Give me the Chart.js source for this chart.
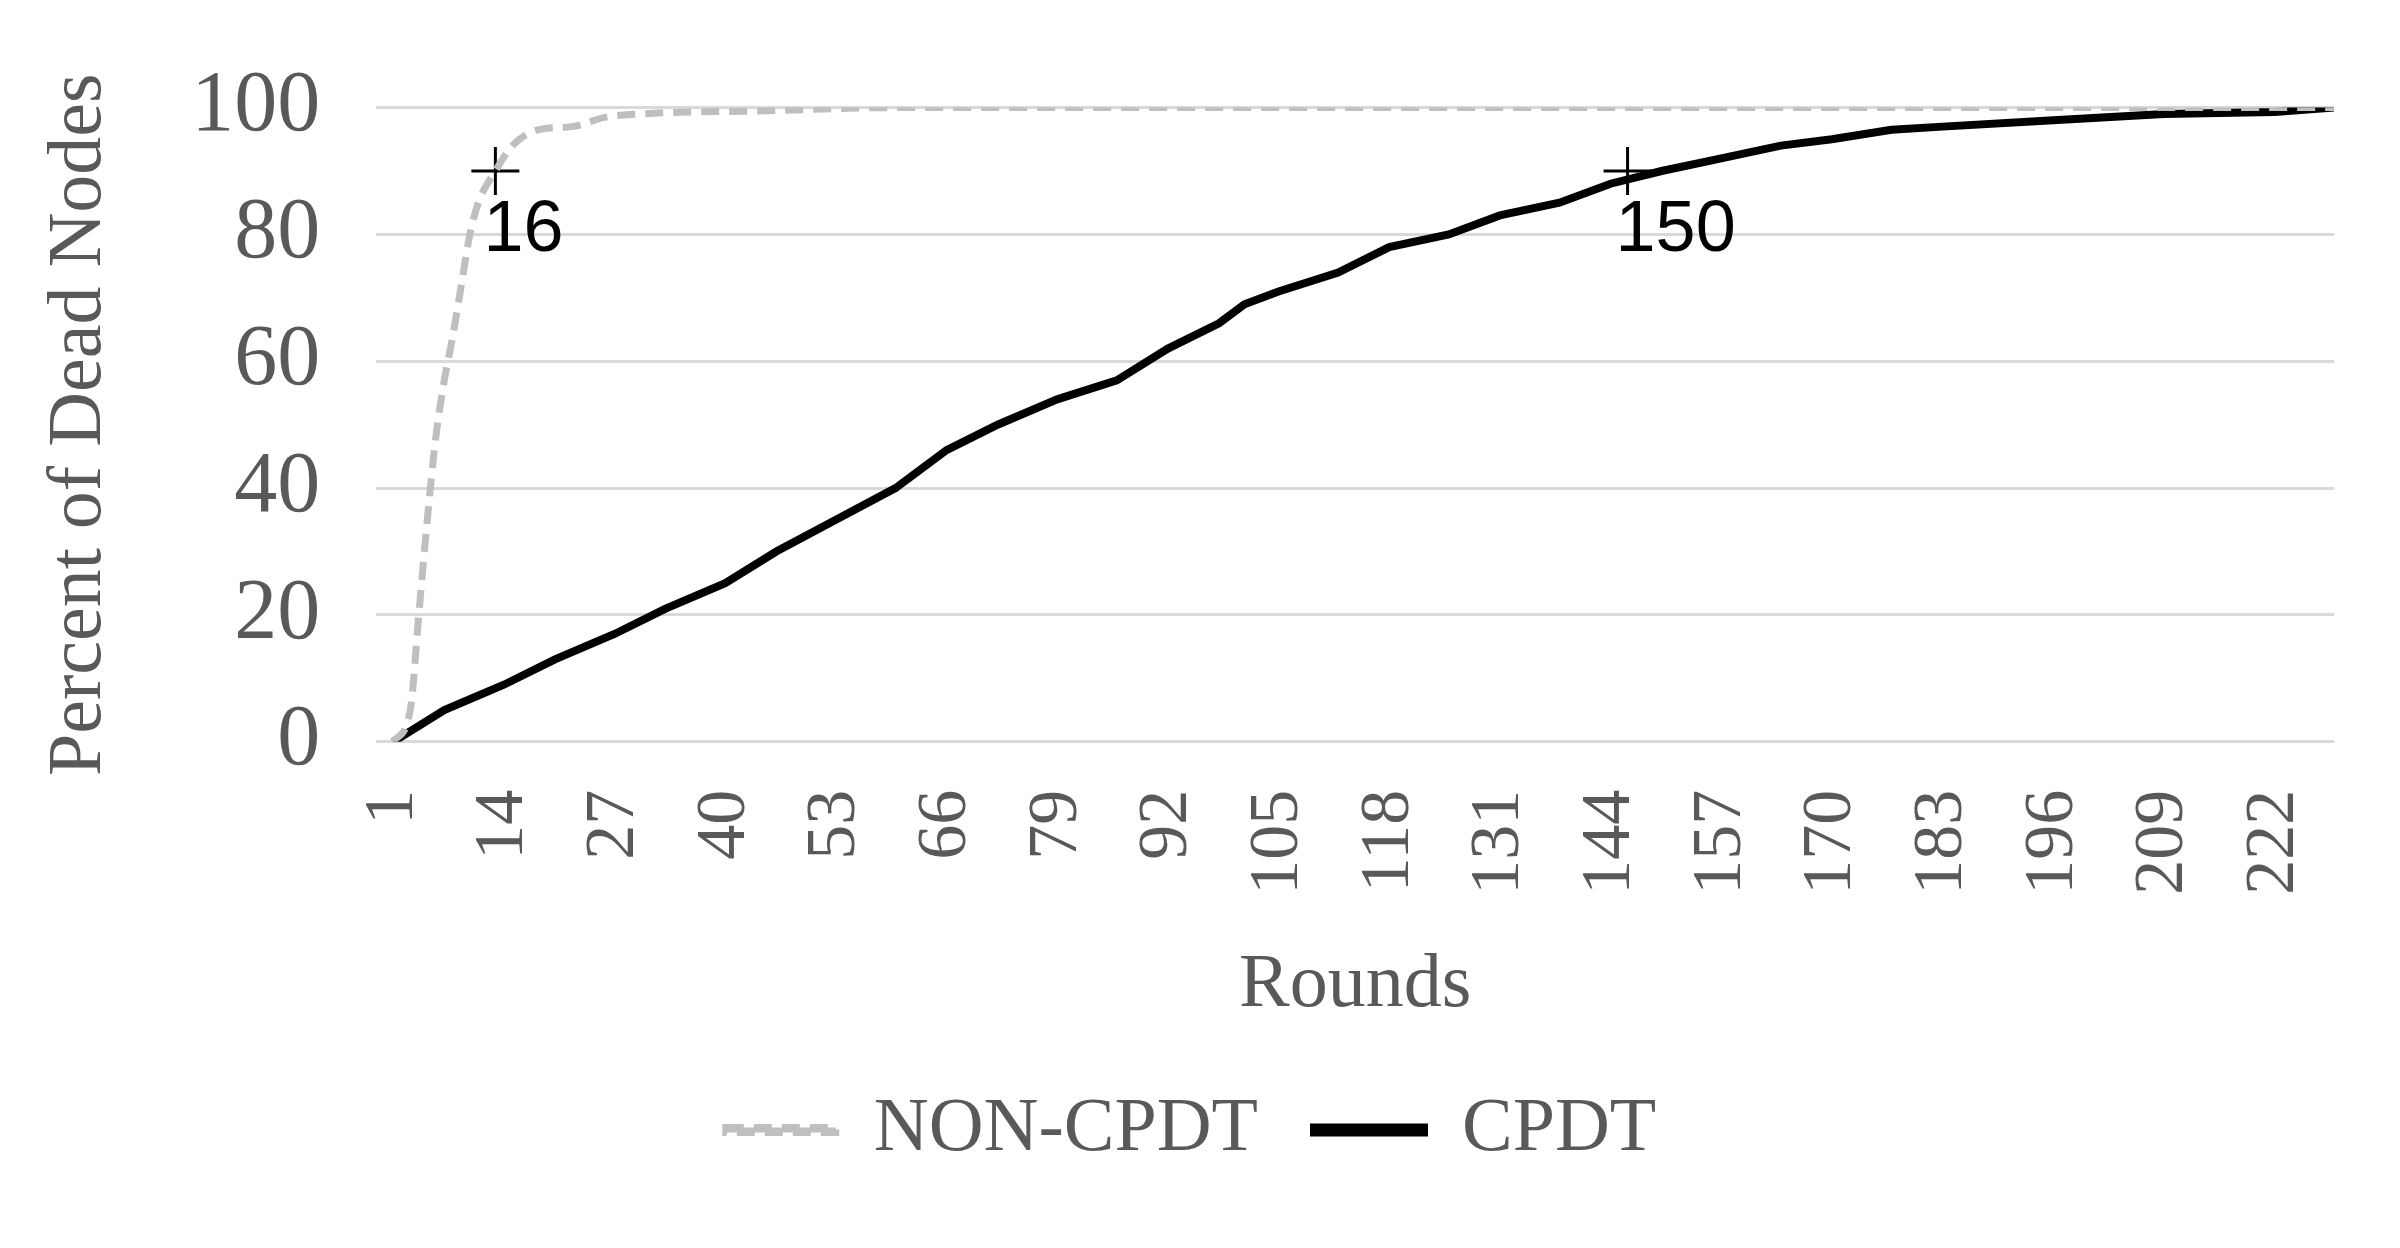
<!DOCTYPE html>
<html>
<head>
<meta charset="utf-8">
<script src="https://cdn.jsdelivr.net/npm/chart.js@4.4.1/dist/chart.umd.min.js"></script>
<style>
  html, body { margin: 0; background: #fff; }
  #wrap { width: 2400px; height: 1248px; }
</style>
</head>
<body>
<div id="wrap"><canvas id="chart"></canvas></div>
<script>
// rounds shown on the x axis
const tickRounds = [1, 14, 27, 40, 53, 66, 79, 92, 105, 118, 131, 144, 157, 170, 183, 196, 209, 222];

// NON-CPDT (percent of dead nodes by round)
const nonRounds = [1, 3, 4, 5, 6, 7, 8, 9, 10, 11, 13, 15, 18, 22, 26, 30, 45, 60, 229];
const nonValues = [0, 5, 20, 35, 48, 57, 64, 72, 80, 85, 90, 94, 96.5, 97, 98.5, 99, 99.5, 100, 100];

// CPDT
const cpdtRounds = [1, 7, 14, 20, 27, 33, 40, 46, 53, 60, 66, 72, 79, 86, 92, 98, 101, 105, 112, 118, 125, 131, 138, 144, 150, 157, 164, 170, 177, 183, 196, 209, 222, 229];
const cpdtValues = [0, 5, 9, 13, 17, 21, 25, 30, 35, 40, 46, 50, 54, 57, 62, 66, 69, 71, 74, 78, 80, 83, 85, 88, 90, 92, 94, 95, 96.5, 97, 98, 99, 99.3, 100];

// annotated points
const markRounds = [13, 146];
const markValues = [90, 90];
const markLabels = ['16', '150'];

const toXY = (xs, ys) => xs.map((x, i) => ({ x: x, y: ys[i] }));

const grey = '#595959';
const serif = '"Liberation Serif", "DejaVu Serif", serif';

const markLabelPlugin = {
  id: 'markLabels',
  afterDatasetsDraw(chart) {
    const meta = chart.getDatasetMeta(2);
    const ctx = chart.ctx;
    ctx.save();
    ctx.font = '72px "Liberation Sans", Arial, sans-serif';
    ctx.fillStyle = '#000';
    ctx.textBaseline = 'top';
    meta.data.forEach((pt, i) => {
      ctx.fillText(markLabels[i], pt.x - 12, pt.y + 24);
    });
    ctx.restore();
  }
};

new Chart(document.getElementById('chart'), {
  type: 'line',
  data: {
    datasets: [
      {
        label: 'NON-CPDT',
        data: toXY(nonRounds, nonValues),
        borderColor: '#bfbfbf',
        backgroundColor: '#bfbfbf',
        borderWidth: 7,
        borderDash: [18, 10],
        pointRadius: 0,
        tension: 0.4,
        cubicInterpolationMode: 'monotone'
      },
      {
        label: 'CPDT',
        data: toXY(cpdtRounds, cpdtValues),
        borderColor: '#000',
        backgroundColor: '#000',
        borderWidth: 8,
        pointRadius: 0,
        tension: 0
      },
      {
        label: 'marks',
        data: toXY(markRounds, markValues),
        showLine: false,
        pointStyle: 'cross',
        pointRadius: 24,
        borderColor: '#000',
        borderWidth: 3
      }
    ]
  },
  options: {
    responsive: true,
    maintainAspectRatio: false,
    animation: false,
    devicePixelRatio: 1,
    layout: { padding: { left: 30, right: 48, top: 50, bottom: 70 } },
    scales: {
      x: {
        type: 'linear',
        min: -1,
        max: 229,
        afterBuildTicks: axis => { axis.ticks = tickRounds.map(v => ({ value: v })); },
        grid: { display: false },
        border: { display: false },
        ticks: {
          color: grey,
          font: { family: serif, size: 70 },
          maxRotation: 90,
          minRotation: 90,
          autoSkip: false,
          padding: 40
        },
        title: {
          display: true,
          text: 'Rounds',
          color: grey,
          font: { family: serif, size: 76 },
          padding: { top: 6 }
        }
      },
      y: {
        min: 0,
        max: 100,
        ticks: {
          stepSize: 20,
          color: grey,
          font: { family: serif, size: 86 },
          padding: 56
        },
        grid: { color: '#d9d9d9', lineWidth: 3, drawTicks: false },
        border: { display: false },
        title: {
          display: true,
          text: 'Percent of Dead Nodes',
          color: grey,
          font: { family: serif, size: 76 },
          padding: { bottom: 10 }
        }
      }
    },
    plugins: {
      legend: {
        position: 'bottom',
        labels: {
          filter: item => item.datasetIndex < 2,
          color: grey,
          font: { family: serif, size: 76 },
          boxWidth: 110,
          boxHeight: 5,
          padding: 56
        }
      },
      tooltip: { enabled: false }
    }
  },
  plugins: [markLabelPlugin]
});
</script>
</body>
</html>
